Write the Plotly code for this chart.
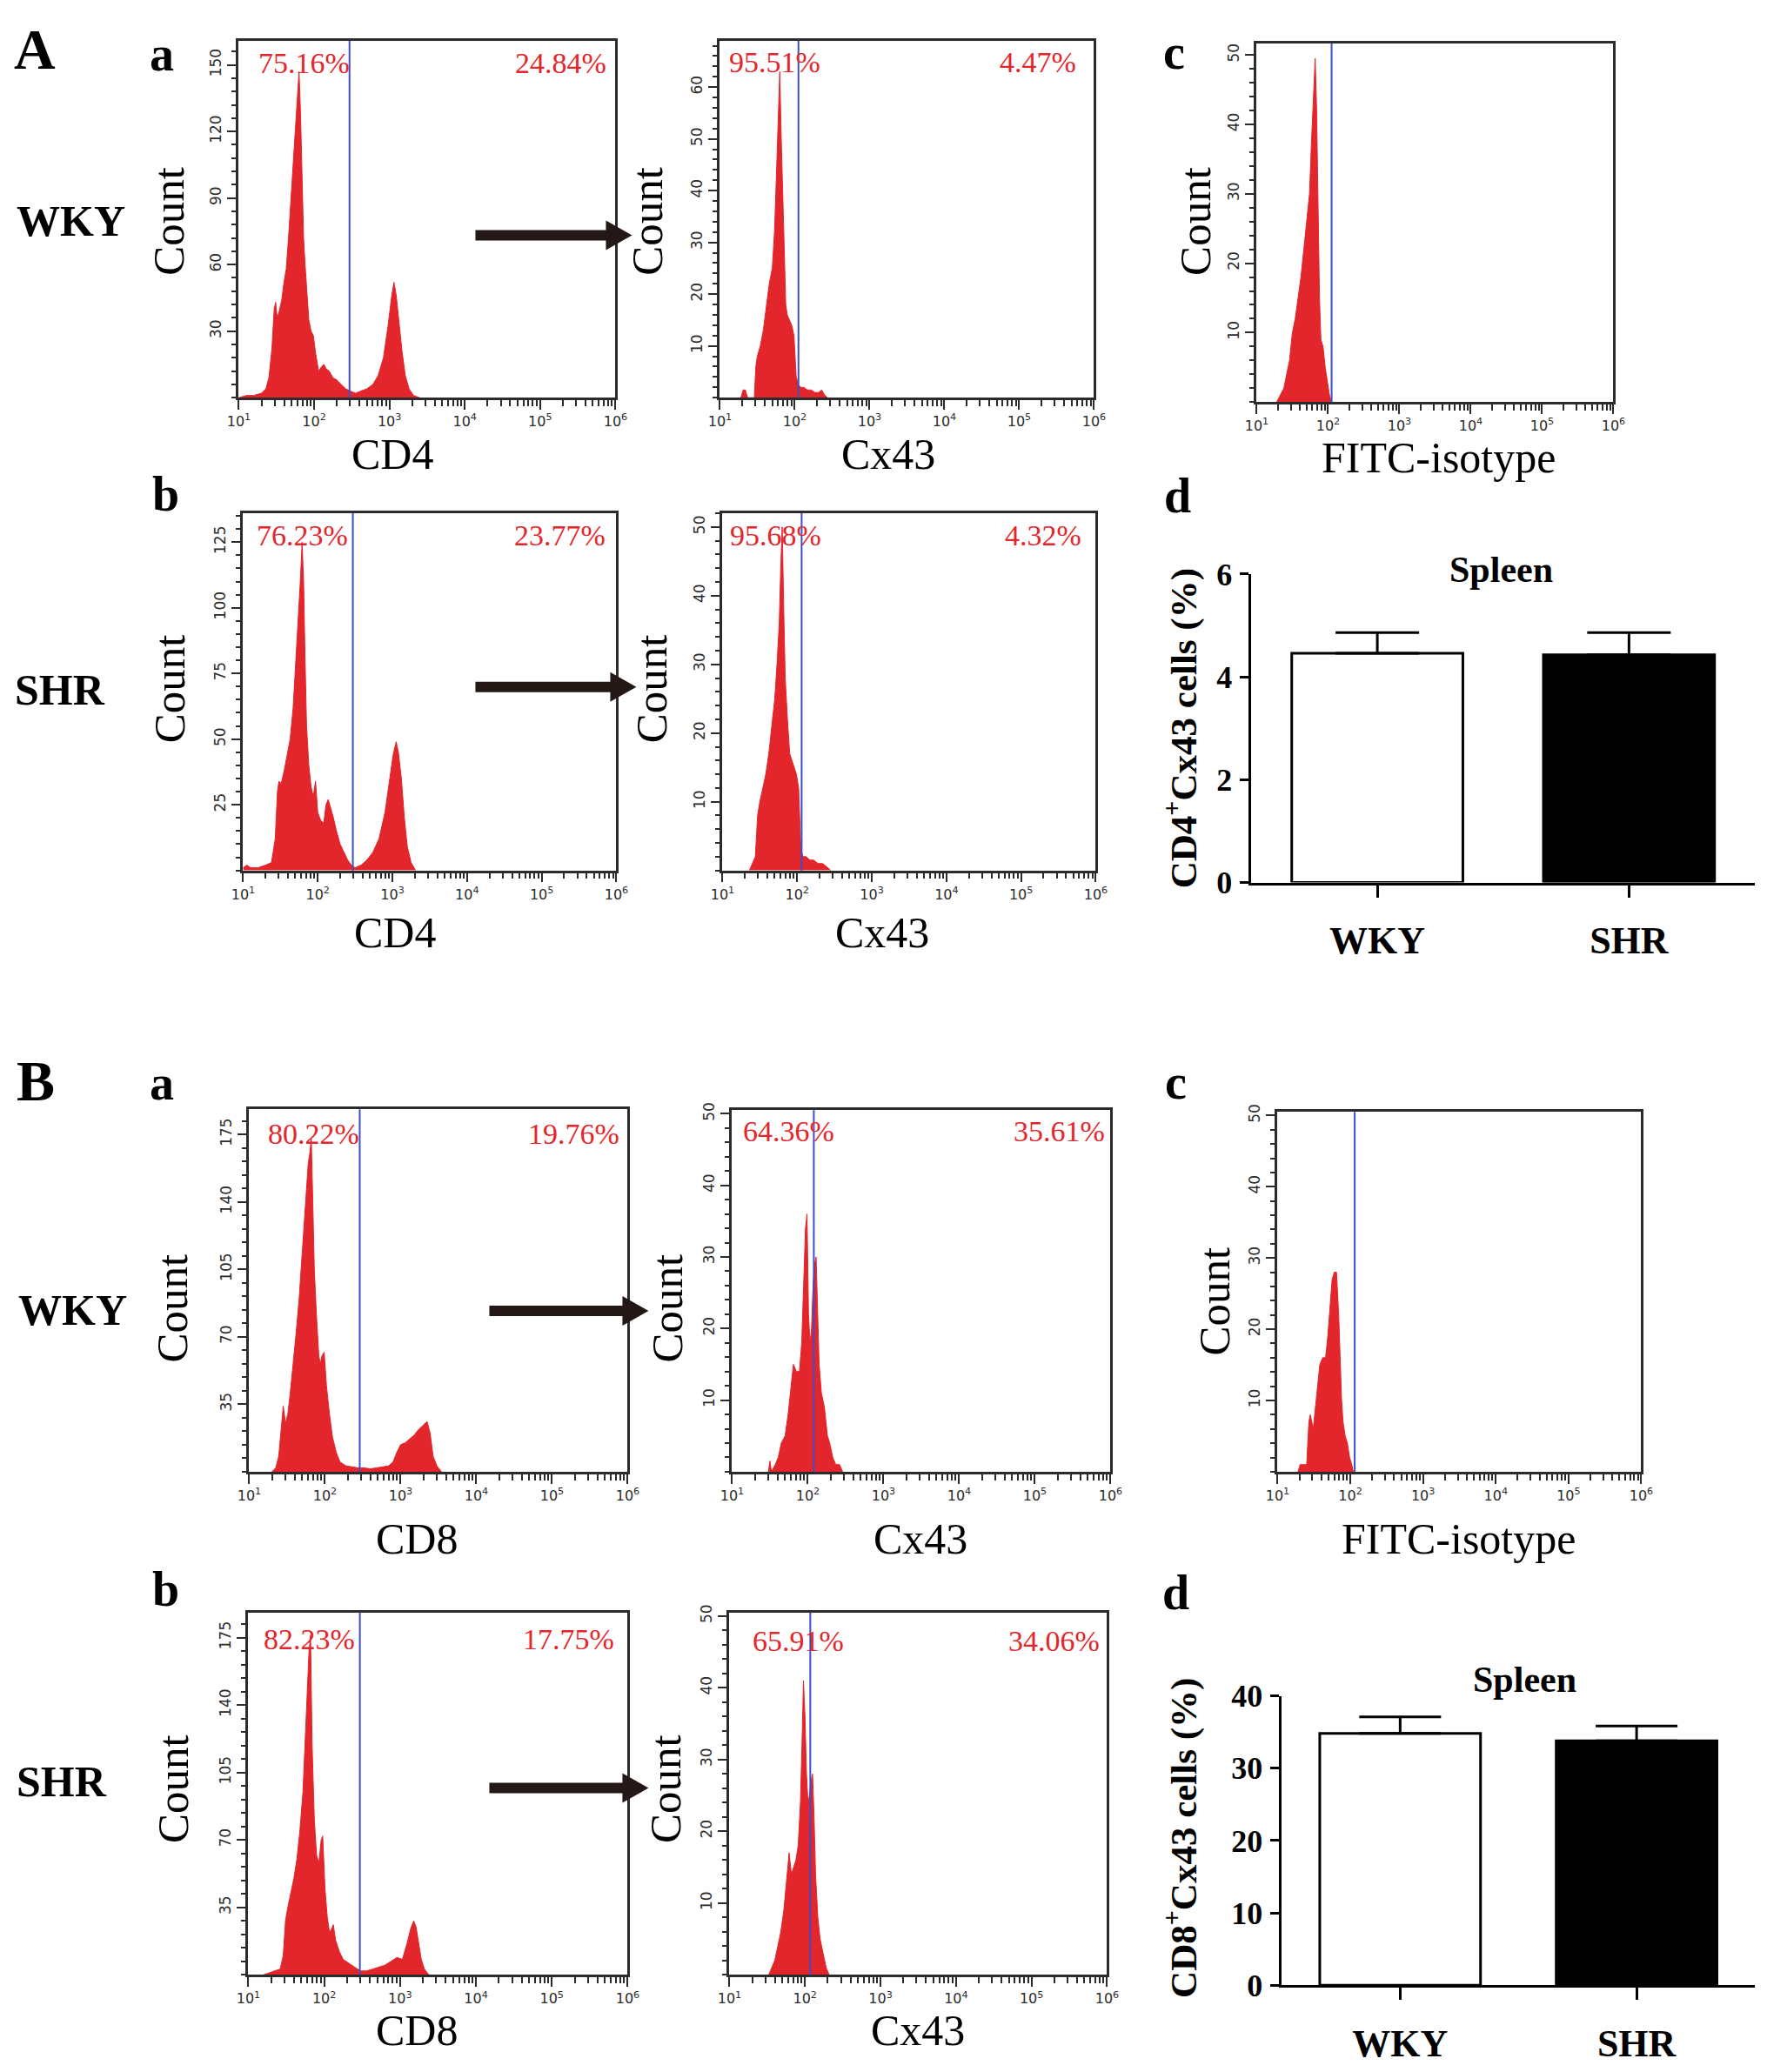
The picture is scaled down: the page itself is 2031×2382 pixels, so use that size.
import math
import plotly.graph_objects as go

W, H = 2031, 2382

# ---------------- data ----------------
# histogram x values are log10(fluorescence intensity), y values are event counts

# A-a  WKY, CD4
cd4_wky_x = [1.00, 1.10, 1.20, 1.30, 1.36, 1.40, 1.44, 1.47, 1.49, 1.51, 1.53, 1.55, 1.57, 1.60, 1.63,
             1.66, 1.69, 1.72, 1.75, 1.78, 1.80, 1.82, 1.84, 1.86, 1.88, 1.90, 1.93, 1.96, 1.99, 2.02,
             2.06, 2.10, 2.13, 2.16, 2.20, 2.25, 2.30, 2.36, 2.42, 2.48, 2.55, 2.62, 2.70, 2.78, 2.85,
             2.92, 2.98, 3.03, 3.06, 3.09, 3.13, 3.17, 3.21, 3.26, 3.32, 3.40]
cd4_wky_y = [0, 1, 1, 2, 4, 9, 22, 40, 43, 36, 38, 41, 44, 52, 58,
             72, 88, 100, 118, 135, 147, 128, 95, 72, 60, 48, 35, 30, 28, 20,
             12, 14, 15, 13, 12, 9, 8, 6, 4, 3, 2, 3, 4, 6, 10,
             18, 32, 46, 52, 46, 32, 20, 10, 4, 1, 0]

# A-a  WKY, Cx43 of CD4+ gate
cx43_cd4_wky_x = [1.28, 1.31, 1.34, 1.37, 1.46, 1.48, 1.50, 1.54, 1.58, 1.62, 1.66, 1.70, 1.73, 1.76, 1.78,
                  1.80, 1.82, 1.84, 1.86, 1.88, 1.90, 1.93, 1.96, 1.99, 2.02, 2.05, 2.08, 2.12, 2.17, 2.22,
                  2.27, 2.32, 2.36, 2.40, 2.44]
cx43_cd4_wky_y = [0, 1.5, 1.5, 0, 0, 6, 8, 10, 13, 18, 22, 25, 32, 45, 55,
                  63, 50, 38, 26, 18, 16, 15, 14, 12, 4, 2.5, 2, 2, 1.5, 1.5,
                  1, 1, 1.5, 0.5, 0]

# A-c  FITC isotype control
iso_a_x = [1.28, 1.33, 1.38, 1.42, 1.46, 1.50, 1.54, 1.58, 1.62, 1.66, 1.70, 1.74, 1.77, 1.80, 1.82,
           1.84, 1.86, 1.88, 1.90, 1.93, 1.96, 1.99, 2.02, 2.05]
iso_a_y = [0, 1, 2, 4, 6, 10, 12, 15, 18, 22, 26, 30, 38, 46, 49.5,
           42, 30, 15, 9, 8, 5, 3, 1, 0]

# A-b  SHR, CD4
cd4_shr_x = [1.00, 1.05, 1.10, 1.20, 1.30, 1.38, 1.43, 1.46, 1.48, 1.51, 1.55, 1.59, 1.63, 1.67, 1.71,
             1.74, 1.77, 1.79, 1.81, 1.83, 1.85, 1.88, 1.91, 1.94, 1.97, 2.00, 2.04, 2.08, 2.11, 2.14,
             2.17, 2.21, 2.25, 2.30, 2.35, 2.40, 2.45, 2.50, 2.58, 2.66, 2.74, 2.82, 2.90, 2.96, 3.01,
             3.05, 3.08, 3.12, 3.16, 3.20, 3.25, 3.31]
cd4_shr_y = [1, 2, 1, 1, 2, 3, 12, 30, 34, 33, 38, 44, 50, 62, 82,
             95, 112, 125, 110, 80, 55, 40, 32, 28, 34, 22, 19, 18, 25, 27,
             24, 20, 15, 10, 7, 4, 2, 1, 2, 4, 7, 12, 22, 35, 44,
             49, 45, 35, 20, 9, 3, 0]

# A-b  SHR, Cx43 of CD4+ gate
cx43_cd4_shr_x = [1.36, 1.40, 1.44, 1.47, 1.50, 1.54, 1.58, 1.62, 1.66, 1.70, 1.73, 1.76, 1.78, 1.80, 1.82,
                  1.84, 1.87, 1.90, 1.93, 1.96, 1.99, 2.02, 2.05, 2.08, 2.12, 2.17, 2.22, 2.28, 2.34, 2.40,
                  2.45]
cx43_cd4_shr_y = [0, 1, 2, 8, 10, 12, 14, 17, 21, 25, 30, 36, 44, 50, 38,
                  28, 22, 17, 16, 15, 14, 12, 3, 2, 2, 1.5, 1.5, 1, 1, 0.5,
                  0]

# B-a  WKY, CD8
cd8_wky_x = [1.30, 1.35, 1.39, 1.42, 1.45, 1.48, 1.51, 1.54, 1.58, 1.62, 1.66, 1.70, 1.74, 1.78, 1.80,
             1.82, 1.84, 1.86, 1.89, 1.92, 1.94, 1.96, 1.99, 2.02, 2.06, 2.10, 2.15, 2.20, 2.28, 2.36,
             2.44, 2.52, 2.60, 2.68, 2.76, 2.84, 2.90, 2.95, 3.00, 3.06, 3.12, 3.18, 3.24, 3.30, 3.35,
             3.39, 3.43, 3.48, 3.54]
cd8_wky_y = [0, 2, 8, 20, 34, 25, 30, 40, 55, 72, 90, 112, 135, 160, 165,
             173, 140, 105, 80, 60, 56, 60, 62, 45, 30, 18, 10, 5, 3, 2.5,
             2, 2, 1.5, 2, 2.5, 3, 5, 10, 14, 15, 17, 19, 22, 24, 26,
             20, 8, 3, 0]

# B-a  WKY, Cx43 of CD8+ gate
cx43_cd8_wky_x = [1.48, 1.50, 1.52, 1.57, 1.61, 1.65, 1.70, 1.74, 1.78, 1.81, 1.85, 1.89, 1.92, 1.95, 1.97,
                  1.99, 2.01, 2.03, 2.05, 2.07, 2.09, 2.11, 2.13, 2.15, 2.18, 2.22, 2.26, 2.29, 2.33, 2.37,
                  2.42, 2.46]
cx43_cd8_wky_y = [0, 1.5, 0, 1, 2, 4, 5, 8, 12, 15, 14, 14, 18, 28, 34,
                  36, 22, 18, 20, 26, 29, 30, 22, 15, 11, 9, 5, 4, 2, 1,
                  1, 0]

# B-c  FITC isotype control
iso_b_x = [1.28, 1.31, 1.36, 1.40, 1.43, 1.45, 1.49, 1.52, 1.55, 1.58, 1.62, 1.66, 1.69, 1.72, 1.75,
           1.78, 1.81, 1.84, 1.86, 1.88, 1.90, 1.93, 1.96, 1.99, 2.02, 2.04]
iso_b_y = [0, 1, 1, 1, 7, 8, 6, 9, 12, 15, 16, 16, 19, 23, 27,
           28, 28, 22, 15, 10, 7, 5, 4, 2, 1, 0]

# B-b  SHR, CD8
cd8_shr_x = [1.20, 1.28, 1.36, 1.42, 1.46, 1.49, 1.52, 1.56, 1.60, 1.64, 1.68, 1.72, 1.75, 1.78, 1.80,
             1.82, 1.84, 1.87, 1.90, 1.93, 1.96, 1.98, 2.01, 2.04, 2.07, 2.10, 2.12, 2.15, 2.20, 2.25,
             2.32, 2.40, 2.48, 2.56, 2.64, 2.72, 2.80, 2.88, 2.96, 3.03, 3.09, 3.14, 3.18, 3.21, 3.24,
             3.28, 3.32, 3.38]
cd8_shr_y = [0, 1, 2, 3, 10, 28, 35, 42, 50, 60, 75, 95, 120, 150, 168,
             176, 120, 80, 62, 58, 70, 72, 45, 30, 22, 24, 26, 18, 12, 8,
             6, 4, 2, 2, 3, 4, 5, 7, 9, 8, 16, 24, 28, 25, 18,
             8, 3, 0]

# B-b  SHR, Cx43 of CD8+ gate
cx43_cd8_shr_x = [1.52, 1.56, 1.60, 1.64, 1.68, 1.72, 1.76, 1.79, 1.82, 1.85, 1.88, 1.91, 1.94, 1.96, 1.98,
                  2.00, 2.02, 2.04, 2.06, 2.08, 2.10, 2.12, 2.14, 2.17, 2.20, 2.24, 2.28, 2.32]
cx43_cd8_shr_y = [0, 1, 2, 4, 6, 9, 14, 17, 14, 15, 16, 18, 24, 32, 41,
                  36, 28, 24, 25, 27, 28, 22, 14, 8, 5, 3, 1, 0]

# gate positions (log10) and gate percentages
gate_x = [2.47, 2.05, 2.05, 2.47, 2.06, 2.46, 2.08, 2.06, 2.47, 2.07]
pct_left = ["75.16%", "95.51%", None, "76.23%", "95.68%", "80.22%", "64.36%", None, "82.23%", "65.91%"]
pct_right = ["24.84%", "4.47%", None, "23.77%", "4.32%", "19.76%", "35.61%", None, "17.75%", "34.06%"]
x_titles = ["CD4", "Cx43", "FITC-isotype", "CD4", "Cx43", "CD8", "Cx43", "FITC-isotype", "CD8", "Cx43"]

# bar charts (mean + SEM)
groups = ["WKY", "SHR"]
cd4_cx43_mean = [4.46, 4.43]
cd4_cx43_sem = [0.40, 0.43]
cd8_cx43_mean = [34.8, 33.8]
cd8_cx43_sem = [2.3, 2.05]

# ---------------- layout helpers ----------------
RED = "#e3262b"
BLUE = "#3d4fc9"
FRAME = "#2b2b2b"
SERIF = "Liberation Serif"
SANS = "DejaVu Sans"

# positions below are measured on the reference in pixels; a slight stretch about
# the page centre keeps the panels where they sit in the reference
CX, CY, KX, KY = 910, 910, 1.014, 1.016


def fx(px):
    return (CX + (px - CX) * KX) / W


def fy(py):
    return 1 - (CY + (py - CY) * KY) / H


hist_data = [
    (cd4_wky_x, cd4_wky_y), (cx43_cd4_wky_x, cx43_cd4_wky_y), (iso_a_x, iso_a_y),
    (cd4_shr_x, cd4_shr_y), (cx43_cd4_shr_x, cx43_cd4_shr_y),
    (cd8_wky_x, cd8_wky_y), (cx43_cd8_wky_x, cx43_cd8_wky_y), (iso_b_x, iso_b_y),
    (cd8_shr_x, cd8_shr_y), (cx43_cd8_shr_x, cx43_cd8_shr_y),
]

# box (left, right, top, bottom) px, y max, major/minor step, pct offsets (left dx, right dx, dy),
# x title centre, Count title centre
hist_layout = [
    dict(box=(273, 706, 42, 453), ymax=161, major=30, minor=6, off=(21, -8, 26), xt=(450, 518), ct=(193, 250)),
    dict(box=(826, 1256, 42, 453), ymax=69, major=10, minor=2, off=(9, -18, 25), xt=(1020, 518), ct=(743, 250)),
    dict(box=(1443, 1853, 45, 458), ymax=51.7, major=10, minor=2, off=None, xt=(1652, 522), ct=(1373, 250)),
    dict(box=(278, 707, 586, 997), ymax=136, major=25, minor=5, off=(14, -10, 25), xt=(453, 1068), ct=(193, 788)),
    dict(box=(829, 1258, 586, 997), ymax=52, major=10, minor=2, off=(7, -14, 25), xt=(1013, 1068), ct=(747, 788)),
    dict(box=(285, 720, 1272, 1689), ymax=188, major=35, minor=7, off=(20, -7, 28), xt=(478, 1766), ct=(197, 1501)),
    dict(box=(840, 1275, 1273, 1689), ymax=50.5, major=10, minor=2, off=(11, -4, 24), xt=(1057, 1766), ct=(766, 1501)),
    dict(box=(1467, 1885, 1275, 1689), ymax=50.5, major=10, minor=2, off=None, xt=(1675, 1766), ct=(1395, 1493)),
    dict(box=(284, 720, 1851, 2268), ymax=188, major=35, minor=7, off=(16, -13, 31), xt=(478, 2332), ct=(197, 2054)),
    dict(box=(837, 1271, 1851, 2268), ymax=50.5, major=10, minor=2, off=(25, -6, 33), xt=(1054, 2332), ct=(763, 2054)),
]

log_minor = [d + math.log10(k) for d in range(1, 6) for k in range(2, 10)]

fig = go.Figure()
annotations = []
shapes = []
axes = {}


def note(x, y, text, size, color="black", family=SERIF, bold=False, angle=0, xanchor="center"):
    annotations.append(dict(
        x=fx(x), y=fy(y), xref="paper", yref="paper", text=text, showarrow=False,
        textangle=angle, xanchor=xanchor, yanchor="middle",
        font=dict(family=family, size=size, color=color, weight="bold" if bold else "normal")))


for i, ((xs, ys), spec) in enumerate(zip(hist_data, hist_layout), start=1):
    sid = "" if i == 1 else str(i)
    left, right, top, bottom = spec["box"]
    fig.add_trace(go.Scatter(
        x=xs, y=ys, mode="lines", line=dict(color=RED, width=1), fill="tozeroy",
        fillcolor=RED, hoverinfo="skip", showlegend=False, xaxis="x" + sid, yaxis="y" + sid))
    axes["xaxis" + sid] = dict(
        domain=[fx(left), fx(right)], anchor="y" + sid, range=[1, 6],
        tickmode="array", tickvals=[1, 2, 3, 4, 5, 6],
        ticktext=["10<sup>%d</sup>" % k for k in range(1, 7)],
        ticks="outside", ticklen=11, tickwidth=2, tickcolor=FRAME,
        showline=True, linecolor=FRAME, linewidth=2.5, mirror=True,
        showgrid=False, zeroline=False,
        tickfont=dict(family=SANS, size=16, color=FRAME),
        minor=dict(tickmode="array", tickvals=log_minor, ticks="outside", ticklen=7,
                   tickwidth=1.5, tickcolor=FRAME))
    majors = list(range(spec["major"], int(spec["ymax"]) + 1, spec["major"]))
    axes["yaxis" + sid] = dict(
        domain=[fy(bottom), fy(top)], anchor="x" + sid, range=[0, spec["ymax"]],
        tickmode="array", tickvals=majors, tickangle=-90,
        ticks="outside", ticklen=11, tickwidth=2, tickcolor=FRAME,
        showline=True, linecolor=FRAME, linewidth=2.5, mirror=True,
        showgrid=False, zeroline=False,
        tickfont=dict(family=SANS, size=17, color=FRAME),
        minor=dict(dtick=spec["minor"], tick0=0, ticks="outside", ticklen=6,
                   tickwidth=1.5, tickcolor=FRAME))
    # gate line
    shapes.append(dict(type="line", xref="x" + sid, yref="y" + sid + " domain",
                       x0=gate_x[i - 1], x1=gate_x[i - 1], y0=0, y1=1,
                       line=dict(color=BLUE, width=2)))
    # percentages
    if spec["off"] is not None:
        dl, dr, dy = spec["off"]
        note(left + dl, top + dy, pct_left[i - 1], 34, color=RED, xanchor="left")
        note(right + dr, top + dy, pct_right[i - 1], 34, color=RED, xanchor="right")
    # axis titles
    note(spec["xt"][0], spec["xt"][1], x_titles[i - 1], 50)
    note(spec["ct"][0], spec["ct"][1], "Count", 51, angle=-90)

# ---------------- bar charts ----------------
bar_layout = [
    dict(box=(1437, 2016, 656, 1011), mean=cd4_cx43_mean, sem=cd4_cx43_sem, ymax=6, dtick=2,
         title=(1724, 651), ytitle="CD4<sup>+</sup>Cx43 cells (%)", yt=(1356, 833), cap=48),
    dict(box=(1472, 2016, 1947, 2280), mean=cd8_cx43_mean, sem=cd8_cx43_sem, ymax=40, dtick=10,
         title=(1751, 1928), ytitle="CD8<sup>+</sup>Cx43 cells (%)", yt=(1356, 2110), cap=47),
]

for j, spec in enumerate(bar_layout, start=11):
    sid = str(j)
    left, right, top, bottom = spec["box"]
    fig.add_trace(go.Bar(
        x=groups, y=spec["mean"], width=0.68,
        marker=dict(color=["white", "black"], line=dict(color="black", width=3)),
        error_y=dict(type="data", array=spec["sem"], arrayminus=[0, 0], symmetric=False,
                     color="black", thickness=3, width=spec["cap"]),
        hoverinfo="skip", showlegend=False, xaxis="x" + sid, yaxis="y" + sid))
    axes["xaxis" + sid] = dict(
        domain=[fx(left), min(fx(right), 1)], anchor="y" + sid, range=[-0.5, 1.5],
        showline=True, linecolor="black", linewidth=3, ticks="outside", ticklen=14,
        tickwidth=3, tickcolor="black", showgrid=False, zeroline=False,
        ticklabelstandoff=12,
        tickfont=dict(family=SERIF, size=44, color="black", weight="bold"))
    axes["yaxis" + sid] = dict(
        domain=[fy(bottom), fy(top)], anchor="x" + sid, range=[0, spec["ymax"]],
        dtick=spec["dtick"], showline=True, linecolor="black", linewidth=3,
        ticks="outside", ticklen=10, tickwidth=3, tickcolor="black",
        showgrid=False, zeroline=False, ticklabelstandoff=2,
        tickfont=dict(family=SERIF, size=36, color="black", weight="bold"))
    note(spec["title"][0], spec["title"][1], "Spleen", 42, bold=True)
    note(spec["yt"][0], spec["yt"][1], spec["ytitle"], 43, bold=True, angle=-90)

# ---------------- panel letters and row labels ----------------
labels = [
    ("A", 39, 52, 66), ("a", 185, 57, 56), ("WKY", 80, 250, 50), ("b", 189, 564, 56),
    ("SHR", 68, 789, 50), ("c", 1348, 55, 56), ("d", 1352, 566, 56),
    ("B", 40, 1239, 66), ("a", 185, 1242, 56), ("WKY", 82, 1503, 50), ("c", 1350, 1241, 56),
    ("b", 189, 1824, 56), ("SHR", 70, 2045, 50), ("d", 1350, 1828, 56),
]
for text, x, y, size in labels:
    note(x, y, text, size, bold=True)

# ---------------- gating arrows ----------------
ARROW = "#231815"
arrows = [(545, 725, 266), (545, 730, 786), (561, 744, 1504), (561, 744, 2053)]
for x0, x1, y in arrows:
    head = 30
    shapes.append(dict(type="rect", xref="paper", yref="paper", x0=fx(x0), x1=fx(x1 - head + 2),
                       y0=fy(y + 6), y1=fy(y - 6), fillcolor=ARROW, line=dict(width=0)))
    path = "M %f %f L %f %f L %f %f Z" % (fx(x1 - head), fy(y - 17), fx(x1), fy(y), fx(x1 - head), fy(y + 17))
    shapes.append(dict(type="path", xref="paper", yref="paper", path=path,
                       fillcolor=ARROW, line=dict(width=0)))

fig.update_layout(
    width=W, height=H, margin=dict(l=0, r=0, t=0, b=0),
    paper_bgcolor="white", plot_bgcolor="white", showlegend=False,
    annotations=annotations, shapes=shapes, **axes)

# the page body has a default margin; drop it so the figure fills the window exactly
fig.write_html("out.html", config={"displayModeBar": False},
               post_script="document.body.style.margin='0';document.body.style.overflow='hidden';")
